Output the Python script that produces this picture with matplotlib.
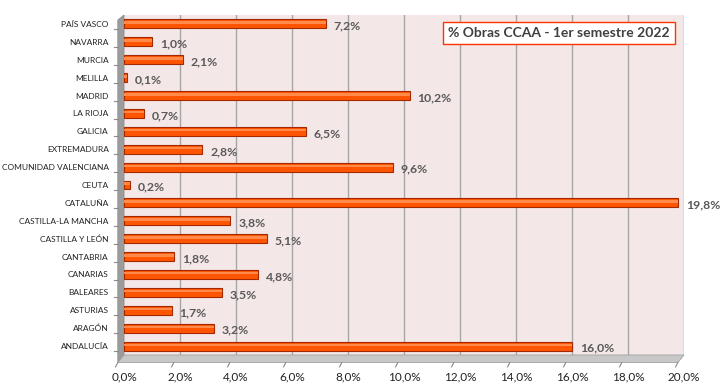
import matplotlib.pyplot as plt
from matplotlib.patches import Polygon

regiones = ["PAÍS VASCO", "NAVARRA", "MURCIA", "MELILLA", "MADRID", "LA RIOJA",
            "GALICIA", "EXTREMADURA", "COMUNIDAD VALENCIANA", "CEUTA", "CATALUÑA",
            "CASTILLA-LA MANCHA", "CASTILLA Y LEÓN", "CANTABRIA", "CANARIAS",
            "BALEARES", "ASTURIAS", "ARAGÓN", "ANDALUCÍA"]
porcentajes = [7.2, 1.0, 2.1, 0.1, 10.2, 0.7, 6.5, 2.8, 9.6, 0.2, 19.8,
               3.8, 5.1, 1.8, 4.8, 3.5, 1.7, 3.2, 16.0]
ticks_x = [0, 2, 4, 6, 8, 10, 12, 14, 16, 18, 20]
titulo = "% Obras CCAA - 1er semestre 2022"

plt.rcParams["font.family"] = ["Lato", "DejaVu Sans"]

fig = plt.figure(figsize=(7.26, 3.88), dpi=100)
ax = fig.add_axes([124 / 726, 1 - 355 / 388, (684 - 124) / 726, 340 / 388])
ax.set_facecolor("#F4E7E7")

n = len(regiones)
ypos = list(range(n))[::-1]

for x in ticks_x[1:]:
    ax.axvline(x, color="#A6A6A6", lw=1, zorder=1)

ax.barh(ypos, porcentajes, height=0.5, color="#FF5500", edgecolor="#A32A00",
        lw=0.8, zorder=3)
ax.barh([y + 0.07 for y in ypos], porcentajes, height=0.14, color="#FF8A4A",
        lw=0, zorder=4)

for y, v in zip(ypos, porcentajes):
    ax.text(v + 0.28, y - 0.12, f"{v:.1f}%".replace(".", ","), va="center",
            ha="left", fontsize=8.8, fontweight="bold", color="#595959", zorder=5)

ax.set_xlim(0, 20)
ax.set_ylim(-0.5, n - 0.5)
ax.set_yticks(ypos)
ax.set_yticklabels(regiones, fontsize=6, color="#222222")
ax.set_xticks(ticks_x)
ax.set_xticklabels([f"{t:.1f}%".replace(".", ",") for t in ticks_x],
                   fontsize=8.5, color="#222222")
ax.tick_params(axis="x", length=0, pad=12)
ax.tick_params(axis="y", length=0, pad=11)
for s in ax.spines.values():
    s.set_visible(False)

# 3D wall and floor
wall = Polygon([(-0.011, -0.022), (0, 0), (0, 1), (-0.011, 0.985)],
               closed=True, transform=ax.transAxes, clip_on=False,
               facecolor="#9C9C9C", edgecolor="#8A8A8A", lw=0.6, zorder=2)
floor = Polygon([(-0.011, -0.022), (0, 0), (1, 0), (0.989, -0.022)],
                closed=True, transform=ax.transAxes, clip_on=False,
                facecolor="#C8C8C8", edgecolor="#A0A0A0", lw=0.6, zorder=2)
ax.add_patch(wall)
ax.add_patch(floor)
for t in ticks_x:
    xa = t / 20 - 0.011
    ax.plot([xa, xa - 0.004], [-0.022, -0.035], transform=ax.transAxes,
            clip_on=False, color="#8A8A8A", lw=0.8)
for y in ypos:
    ya = (y + 0.5) / n
    ax.plot([-0.011, -0.017], [ya - 0.015, ya - 0.015], transform=ax.transAxes,
            clip_on=False, color="#8A8A8A", lw=0.8)

fig.text(559 / 726, 1 - 33 / 388, titulo, ha="center", va="center",
         fontsize=10, fontweight="bold", color="#404040",
         bbox=dict(boxstyle="square,pad=0.35", facecolor="white",
                   edgecolor="#FF3300", lw=1))

fig.savefig("out.png", dpi=100)
